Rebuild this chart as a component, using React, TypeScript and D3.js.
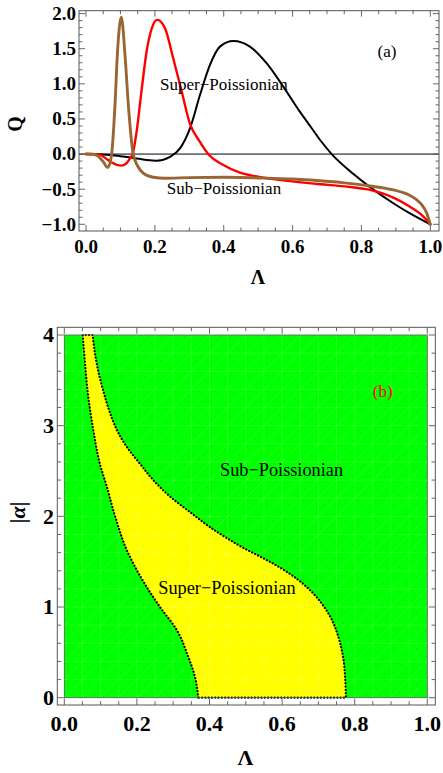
import * as d3 from "d3"

// ---- panel (a): Mandel Q parameter vs Lambda ----
const blackLambda = [0, 0.05, 0.1, 0.128, 0.17, 0.205, 0.244, 0.273, 0.302, 0.331, 0.36, 0.389, 0.428, 0.476, 0.525, 0.573, 0.6215, 0.651, 0.68, 0.7135, 0.776, 0.825, 0.8926, 0.941, 1]
const blackQ = [0, -0.005, -0.03, -0.05, -0.08, -0.095, -0.04, 0.08, 0.365, 0.84, 1.27, 1.53, 1.61, 1.53, 1.29, 0.96, 0.6, 0.4, 0.2, 0, -0.28, -0.47, -0.7, -0.845, -1]

const redLambda = [0, 0.03, 0.045, 0.06, 0.079, 0.09, 0.1035, 0.118, 0.128, 0.1355, 0.147, 0.162, 0.176, 0.191, 0.207, 0.2295, 0.2535, 0.278, 0.302, 0.33, 0.355, 0.399, 0.447, 0.496, 0.5925, 0.68, 0.75, 0.825, 0.8926, 0.941, 0.98, 1]
const redQ = [0, -0.003, -0.02, -0.07, -0.13, -0.155, -0.165, -0.13, -0.06, 0, 0.32, 0.93, 1.46, 1.79, 1.91, 1.79, 1.36, 0.89, 0.43, 0.18, 0, -0.156, -0.265, -0.32, -0.385, -0.43, -0.46, -0.51, -0.62, -0.75, -0.89, -1]

const brownLambda = [0, 0.02, 0.035, 0.05, 0.063, 0.07, 0.0746, 0.0842, 0.091, 0.1025, 0.1133, 0.123, 0.137, 0.15, 0.166, 0.195, 0.23, 0.3, 0.4, 0.5, 0.6, 0.651, 0.75, 0.825, 0.8925, 0.9216, 0.941, 0.96, 0.975, 0.9895, 1]
const brownQ = [0, -0.003, -0.03, -0.11, -0.19, -0.12, 0, 0.7, 1.41, 1.95, 1.41, 0.7, 0, -0.17, -0.27, -0.33, -0.345, -0.335, -0.33, -0.34, -0.355, -0.37, -0.41, -0.455, -0.51, -0.55, -0.59, -0.65, -0.72, -0.84, -1]

// ---- panel (b): boundaries of the super-Poissonian region ----
const leftAlpha = [0, 0.23, 0.45, 0.746, 1.0, 1.3, 1.63, 2.0, 2.33, 2.58, 2.95, 3.32, 3.69, 4]
const leftLambda = [0.369, 0.36, 0.3416, 0.31, 0.2636, 0.215, 0.172, 0.14, 0.117, 0.098, 0.08, 0.066, 0.057, 0.0507]
const rightAlpha = [0, 0.195, 0.45, 0.67, 0.89, 1.06, 1.22, 1.37, 1.48, 1.57, 1.66, 1.76, 1.885, 2.03, 2.22, 2.4, 2.58, 2.75, 2.92, 3.14, 3.39, 3.69, 4]
const rightLambda = [0.776, 0.774, 0.768, 0.755, 0.733, 0.705, 0.668, 0.62, 0.575, 0.533, 0.49, 0.448, 0.4, 0.352, 0.291, 0.245, 0.2085, 0.175, 0.149, 0.126, 0.107, 0.089, 0.078]

const serif = "'Liberation Serif', 'Times New Roman', serif"

function Ticks({ x, y, frame, major, minor, majLen, minLen, stroke }: any) {
  const lines: any[] = []
  const add = (v: number, len: number, key: string) => {
    const px = x(v)
    if (px > frame.x0 + 0.5 && px < frame.x1 - 0.5) {
      lines.push(<line key={"b" + key} x1={px} x2={px} y1={frame.y1} y2={frame.y1 - len} />)
      lines.push(<line key={"t" + key} x1={px} x2={px} y1={frame.y0} y2={frame.y0 + len} />)
    }
  }
  const addY = (v: number, len: number, key: string) => {
    const py = y(v)
    if (py > frame.y0 + 0.5 && py < frame.y1 - 0.5) {
      lines.push(<line key={"l" + key} x1={frame.x0} x2={frame.x0 + len} y1={py} y2={py} />)
      lines.push(<line key={"r" + key} x1={frame.x1} x2={frame.x1 - len} y1={py} y2={py} />)
    }
  }
  major.x.forEach((v: number, i: number) => add(v, majLen, "xM" + i))
  minor.x.filter((v: number) => !major.x.some((m: number) => Math.abs(m - v) < 1e-9)).forEach((v: number, i: number) => add(v, minLen, "xm" + i))
  major.y.forEach((v: number, i: number) => addY(v, majLen, "yM" + i))
  minor.y.filter((v: number) => !major.y.some((m: number) => Math.abs(m - v) < 1e-9)).forEach((v: number, i: number) => addY(v, minLen, "ym" + i))
  return <g stroke={stroke} strokeWidth={0.9}>{lines}</g>
}

export default function App() {
  // panel (a)
  const xA = d3.scaleLinear().domain([0, 1]).range([86, 430.3])
  const yA = d3.scaleLinear().domain([-1, 2]).range([224.3, 13.6])
  const frameA = { x0: 79, x1: 439, y0: 10.7, y1: 231 }
  const lineA = d3.line<[number, number]>().x((d) => xA(d[0])).y((d) => yA(d[1])).curve(d3.curveMonotoneX)
  const series = [
    { lam: blackLambda, q: blackQ, color: "#000000", w: 2 },
    { lam: redLambda, q: redQ, color: "#ff0000", w: 2.4 },
    { lam: brownLambda, q: brownQ, color: "#996633", w: 2.9 },
  ]
  const fmt1 = d3.format(".1f")

  // panel (b)
  const xB = d3.scaleLinear().domain([0, 1]).range([64.3, 427.3])
  const yB = d3.scaleLinear().domain([0, 4]).range([697.7, 335])
  const frameB = { x0: 57.3, x1: 435.3, y0: 327.3, y1: 705 }
  const leftPts: [number, number][] = leftAlpha.map((a, i) => [xB(leftLambda[i]), yB(a)])
  const rightPts: [number, number][] = rightAlpha.map((a, i) => [xB(rightLambda[i]), yB(a)])
  const curveY = d3.line<[number, number]>().curve(d3.curveMonotoneY)
  const leftPath = curveY(leftPts) as string
  const rightRev = (curveY(rightPts.slice().reverse()) as string).replace(/^M/, "L")
  const regionPath = leftPath + rightRev + "Z"

  const meshX = xB.ticks(20)
  const meshY = yB.ticks(20)
  const diag = d3.range(-20, 21).map((k) => k * 0.05)

  return (
    <svg width={443} height={773} style={{ position: "absolute", left: 0, top: 0, background: "#fff" }} fontFamily={serif}>
      <defs>
        <clipPath id="clipA">
          <rect x={frameA.x0} y={frameA.y0} width={frameA.x1 - frameA.x0} height={frameA.y1 - frameA.y0} />
        </clipPath>
        <clipPath id="clipB">
          <rect x={xB(0)} y={yB(4)} width={xB(1) - xB(0)} height={yB(0) - yB(4)} />
        </clipPath>
      </defs>

      {/* ---------- panel (a) ---------- */}
      <line x1={frameA.x0} x2={frameA.x1} y1={yA(0)} y2={yA(0)} stroke="#000" strokeWidth={1} />
      <g clipPath="url(#clipA)" fill="none" strokeLinejoin="round" strokeLinecap="round">
        {series.map((s, i) => (
          <path key={i} d={lineA(s.lam.map((l, j) => [l, s.q[j]] as [number, number])) as string} stroke={s.color} strokeWidth={s.w} />
        ))}
      </g>
      <rect x={frameA.x0} y={frameA.y0} width={frameA.x1 - frameA.x0} height={frameA.y1 - frameA.y0} fill="none" stroke="#555" strokeWidth={1} />
      <Ticks x={xA} y={yA} frame={frameA} major={{ x: xA.ticks(5), y: yA.ticks(6) }} minor={{ x: xA.ticks(20), y: yA.ticks(30) }} majLen={6} minLen={3.5} stroke="#555" />
      <g fontWeight="bold" fontSize={19} fill="#000">
        {xA.ticks(5).map((v) => (
          <text key={"xa" + v} x={xA(v)} y={253} textAnchor="middle">{fmt1(v)}</text>
        ))}
        {yA.ticks(6).map((v) => (
          <text key={"ya" + v} x={76} y={yA(v) + 6.4} textAnchor="end">{fmt1(v)}</text>
        ))}
      </g>
      <text x={258} y={284} textAnchor="middle" fontWeight="bold" fontSize={20}>Λ</text>
      <text transform="translate(22,124) rotate(-90)" textAnchor="middle" fontWeight="bold" fontSize={20}>Q</text>
      <text x={387} y={57} textAnchor="middle" fontSize={17}>(a)</text>
      <text x={160} y={90} fontSize={17}>Super−Poissionian</text>
      <text x={166.7} y={194.3} fontSize={17}>Sub−Poissionian</text>

      {/* ---------- panel (b) ---------- */}
      <rect x={xB(0)} y={yB(4)} width={xB(1) - xB(0)} height={yB(0) - yB(4)} fill="#00ff00" />
      <path d={regionPath} fill="#ffff00" />
      <g clipPath="url(#clipB)" stroke="#ffffff" strokeOpacity={0.22} strokeWidth={0.6}>
        {meshX.map((v) => (
          <line key={"mx" + v} x1={xB(v)} x2={xB(v)} y1={yB(0)} y2={yB(4)} />
        ))}
        {meshY.map((v) => (
          <line key={"my" + v} x1={xB(0)} x2={xB(1)} y1={yB(v)} y2={yB(v)} />
        ))}
        {diag.map((v) => (
          <line key={"md" + v} x1={xB(v)} x2={xB(v + 1)} y1={yB(0)} y2={yB(4)} />
        ))}
      </g>
      <path d={regionPath} fill="none" stroke="#000" strokeWidth={2.2} strokeDasharray="0.1 3.2" strokeLinecap="round" />
      <rect x={xB(0)} y={yB(4)} width={xB(1) - xB(0)} height={yB(0) - yB(4)} fill="none" stroke="#555" strokeWidth={0.8} />
      <rect x={frameB.x0} y={frameB.y0} width={frameB.x1 - frameB.x0} height={frameB.y1 - frameB.y0} fill="none" stroke="#555" strokeWidth={1} />
      <Ticks x={xB} y={yB} frame={frameB} major={{ x: xB.ticks(5), y: yB.ticks(4) }} minor={{ x: xB.ticks(20), y: yB.ticks(20) }} majLen={6.5} minLen={3.8} stroke="#555" />
      <g fontWeight="bold" fontSize={22} fill="#000">
        {xB.ticks(5).map((v) => (
          <text key={"xb" + v} x={xB(v)} y={730.5} textAnchor="middle">{fmt1(v)}</text>
        ))}
        {yB.ticks(4).map((v) => (
          <text key={"yb" + v} x={54} y={yB(v) + 7.4} textAnchor="end">{d3.format("d")(v)}</text>
        ))}
      </g>
      <text x={245.3} y={765} textAnchor="middle" fontWeight="bold" fontSize={22}>Λ</text>
      <text transform="translate(25,512.5) rotate(-90)" textAnchor="middle" fontWeight="bold" fontSize={22}>
        |<tspan fontStyle="italic">α</tspan>|
      </text>
      <text x={382.7} y={396.7} textAnchor="middle" fontSize={17} fill="#ff0000">(b)</text>
      <text x={220} y={476} fontSize={18.3}>Sub−Poissionian</text>
      <text x={158.3} y={594.3} fontSize={18.3}>Super−Poissionian</text>
    </svg>
  )
}
